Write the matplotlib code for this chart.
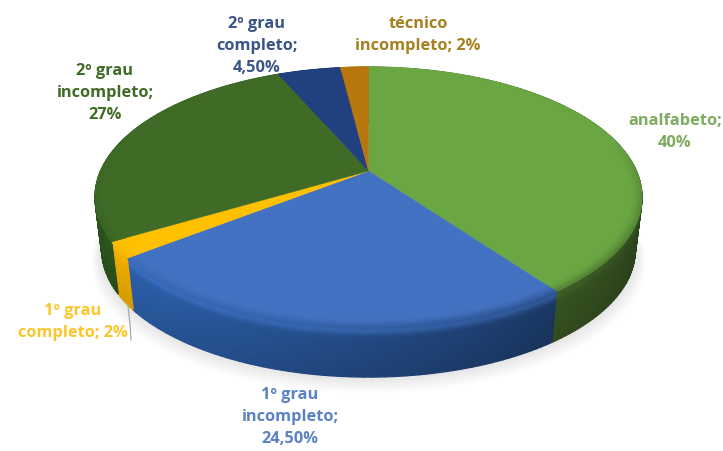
import numpy as np
import matplotlib
matplotlib.use('Agg')
import matplotlib.pyplot as plt
from matplotlib.collections import PolyCollection
from matplotlib.colors import to_rgb

labels = ['analfabeto;\n40%', '1º grau\nincompleto;\n24,50%', '1º grau\ncompleto; 2%',
          '2º grau\nincompleto;\n27%', '2º grau\ncompleto;\n4,50%', 'técnico\nincompleto; 2%']
values = [40, 24.5, 2, 27, 4.5, 2]
top_colors = ['#6aa743', '#4472c2', '#ffc000', '#3f6b27', '#20407f', '#b8770c']
side_colors = ['#64993d', '#3067b8', '#ffb900', '#2f5a1c', '#1d3a75', '#a06a0a']
text_colors = ['#7dab60', '#5b82c4', '#fcc62a', '#3f6b27', '#3b5587', '#a5801f']
glow_levels = [0.08, 0.42, 0.1, 0.1, 0.2, 0.2]
label_xy = [(675, 132), (290, 417), (73, 322), (105, 93), (257, 46), (418, 35)]

# centre of the top face and its perspective
cx, cy = 368.5, 172.0
rx, ry = 268.0, 124.8
persp = 0.2
drop = 54.0
shrink = 0.975


def project(theta, r=1.0, t=0.0):
    # theta runs clockwise from 12 o'clock, t goes from top face (0) to base (1)
    s = 1.0 / (1.0 + persp * r * np.cos(theta))
    f = 1.0 - (1.0 - shrink) * t
    x = cx + rx * r * np.sin(theta) * s * f
    y = cy - ry * r * np.cos(theta) * s * f + drop * t
    return x, y


def wall_shade(theta):
    # the wall gets darker from left to right
    return 1 - 0.55 * (np.sin(theta) + 1) / 2


edges = 2 * np.pi * np.cumsum([0] + values) / np.sum(values)

fig = plt.figure(figsize=(7.23, 4.52), dpi=100, facecolor='white')
ax = fig.add_axes([0, 0, 1, 1])
ax.set_xlim(0, 723)
ax.set_ylim(452, 0)
ax.axis('off')

# soft shadow on the ground
circle = np.linspace(0, 2 * np.pi, 240)
for i in range(14):
    sx, sy = project(circle, 1.0 + 0.0016 * i, 1.0)
    ax.fill(cx + (sx - cx) * (1 + 0.0012 * i), sy + 0.9 * i,
            color='#8a8a80', alpha=0.016, lw=0, zorder=1)

# outer wall, strip by strip
quads, cols = [], []
depth = np.linspace(0, 1, 25)
for k in range(len(values)):
    th = np.linspace(edges[k], edges[k + 1], max(4, int(values[k] * 3)))
    top = np.array(to_rgb(top_colors[k]))
    for a, b in zip(th[:-1], th[1:]):
        base = np.array(to_rgb(side_colors[k])) * wall_shade((a + b) / 2)
        for t0, t1 in zip(depth[:-1], depth[1:]):
            x0, y0 = project(np.array([a, b]), 1.0, t0)
            x1, y1 = project(np.array([b, a]), 1.0, t1)
            quads.append(np.column_stack([np.r_[x0, x1], np.r_[y0, y1]]))
            t = (t0 + t1) / 2
            up = glow_levels[k] * np.exp(-((t - 0.08) / 0.09) ** 2)
            c = base * (1 - 0.12 * t) + up * (top * 1.15 - base)
            cols.append(tuple(np.clip(c, 0, 1)))
ax.add_collection(PolyCollection(quads, facecolors=cols, edgecolors='face',
                                 linewidths=0.9, zorder=2))

# top face
for k in range(len(values)):
    th = np.linspace(edges[k], edges[k + 1], max(4, int(values[k] * 4)))
    x, y = project(th, 1.0)
    ax.fill(np.r_[cx, x], np.r_[cy, y], color=top_colors[k], lw=0.3, zorder=3)

# rounded rim: only the front half of the top face fades into the wall
quads, cols = [], []
radii = np.linspace(0.95, 1.0, 9)
for k in range(len(values)):
    th = np.linspace(edges[k], edges[k + 1], max(4, int(values[k] * 3)))
    top = np.array(to_rgb(top_colors[k]))
    for a, b in zip(th[:-1], th[1:]):
        mid = (a + b) / 2
        front = np.clip(-np.cos(mid) + 0.25, 0, 1) ** 0.6
        wall = np.array(to_rgb(side_colors[k])) * wall_shade(mid)
        for r0, r1 in zip(radii[:-1], radii[1:]):
            x0, y0 = project(np.array([a, b]), r0)
            x1, y1 = project(np.array([b, a]), r1)
            quads.append(np.column_stack([np.r_[x0, x1], np.r_[y0, y1]]))
            w = front * 0.55 * ((r0 - radii[0]) / (radii[-1] - radii[0])) ** 2
            cols.append(tuple(top * (1 - w) + wall * w))
ax.add_collection(PolyCollection(quads, facecolors=cols, edgecolors='face',
                                 linewidths=0.5, zorder=4))

# leader line of the small yellow slice
ax.plot([128, 130, 131], [307, 325, 341], color='#a8a8a8', lw=0.9, zorder=6)

for lab, (tx, ty), col in zip(labels, label_xy, text_colors):
    ax.text(tx, ty, lab, ha='center', va='center', multialignment='center',
            color=col, fontsize=11.8, fontweight='bold', family='Open Sans',
            linespacing=1.53, zorder=7)

fig.savefig('out.png', dpi=100, facecolor='white')
